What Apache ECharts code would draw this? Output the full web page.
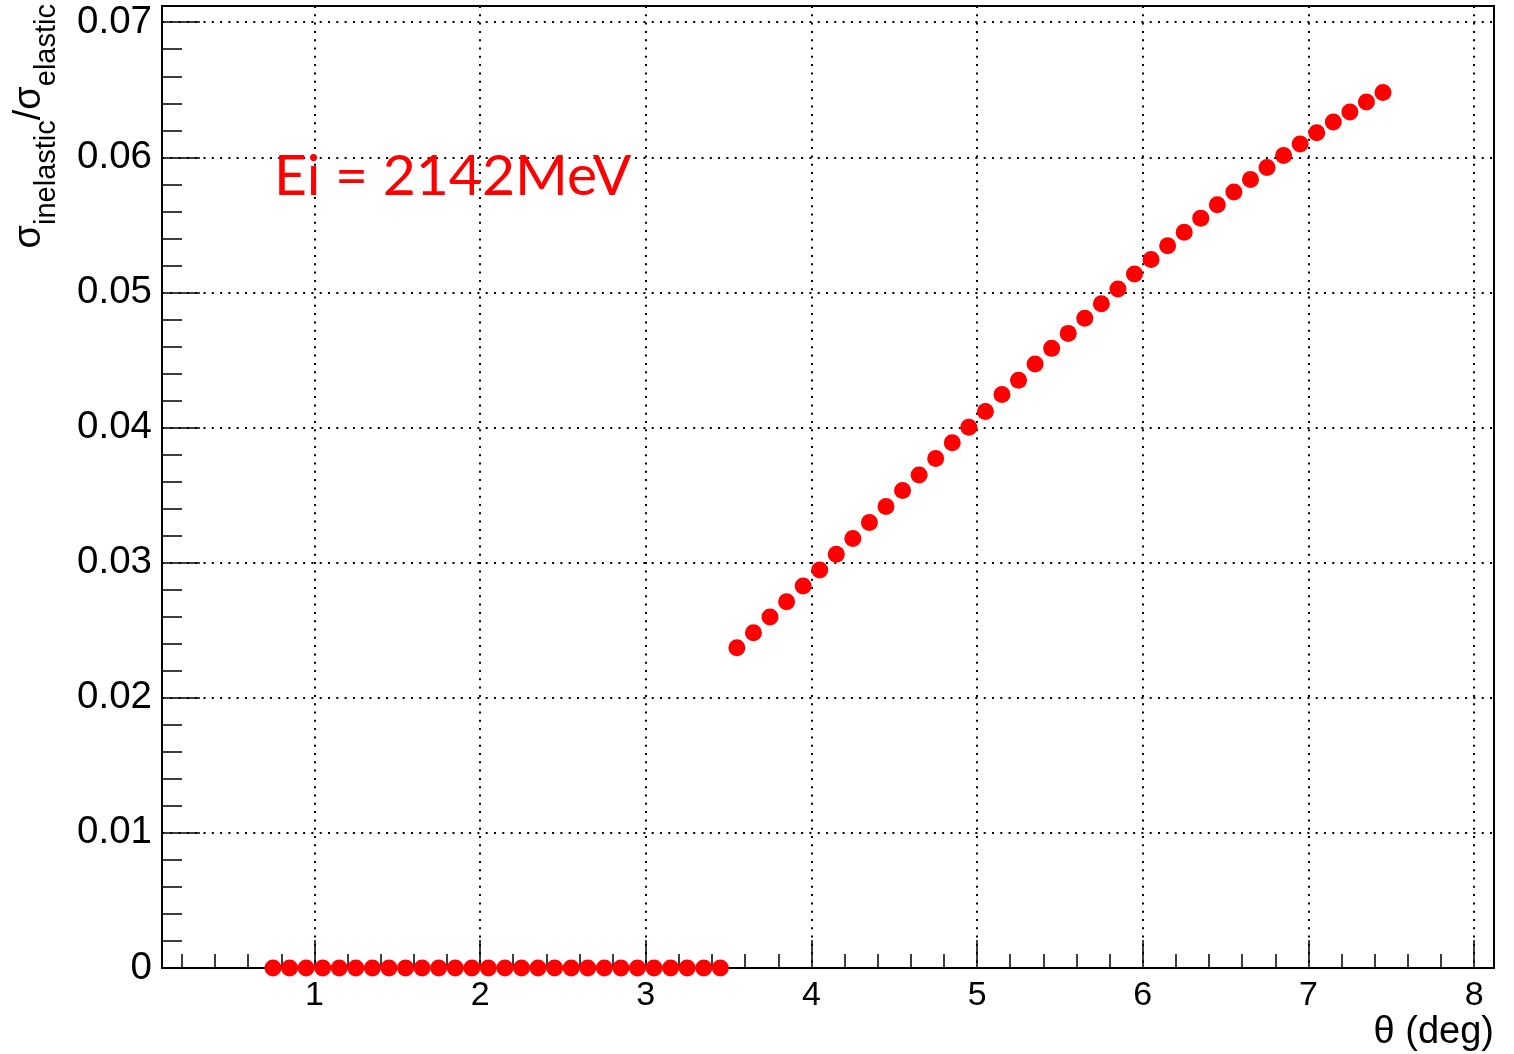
<!DOCTYPE html>
<html>
<head>
<meta charset="utf-8">
<script src="https://cdn.jsdelivr.net/npm/echarts@6/dist/echarts.min.js"></script>
<style>
html,body{margin:0;padding:0;background:#fff;}
#chart{width:1514px;height:1054px;}
</style>
</head>
<body>
<div id="chart"></div>
<script>
// scattering angle (deg)
const theta = [0.75,0.85,0.95,1.05,1.15,1.25,1.35,1.45,1.55,1.65,1.75,1.85,1.95,2.05,2.15,2.25,2.35,2.45,2.55,2.65,2.75,2.85,2.95,3.05,3.15,3.25,3.35,3.45,
  3.55,3.65,3.75,3.85,3.95,4.05,4.15,4.25,4.35,4.45,4.55,4.65,4.75,4.85,4.95,5.05,5.15,5.25,5.35,5.45,5.55,5.65,5.75,5.85,5.95,
  6.05,6.15,6.25,6.35,6.45,6.55,6.65,6.75,6.85,6.95,7.05,7.15,7.25,7.35,7.45];
// sigma_inelastic / sigma_elastic
const ratio = [0,0,0,0,0,0,0,0,0,0,0,0,0,0,0,0,0,0,0,0,0,0,0,0,0,0,0,0,
  0.02370,0.02481,0.02597,0.02711,0.02827,0.02945,0.03062,0.03178,0.03297,0.03415,0.03534,0.03649,0.03771,0.03887,0.04003,
  0.04119,0.04245,0.04350,0.04470,0.04586,0.04697,0.04809,0.04917,0.05026,0.05137,0.05243,0.05345,0.05446,0.05550,0.05649,
  0.05743,0.05836,0.05925,0.06014,0.06099,0.06182,0.06262,0.06336,0.06410,0.06479];
const annotation = 'Ei = 2142MeV';
const xTitle = 'θ (deg)';

const points = theta.map((t, i) => [t, ratio[i]]);
const FONT = '"Liberation Sans", Arial, Helvetica, sans-serif';
const gridDots = {color: '#000', width: 2, type: [2, 6.3]};

const chart = echarts.init(document.getElementById('chart'), null, {renderer: 'canvas'});
chart.setOption({
  animation: false,
  backgroundColor: '#fff',
  grid: {left: 162, right: 20, top: 6, bottom: 86, show: true, borderColor: '#000', borderWidth: 2, backgroundColor: 'transparent'},
  xAxis: {
    type: 'value', min: 0.08, max: 8.12, splitNumber: 8,
    axisLine: {show: true, onZero: false, lineStyle: {color: '#000', width: 2}},
    axisTick: {show: true, inside: true, length: 28, lineStyle: {color: '#000', width: 1.5}},
    minorTick: {show: true, splitNumber: 5, length: 14, lineStyle: {color: '#000', width: 1.5}},
    splitLine: {show: true, lineStyle: gridDots},
    axisLabel: {show: true, showMinLabel: false, showMaxLabel: false, margin: 11, color: '#000', fontSize: 34, fontFamily: FONT},
    name: xTitle, nameLocation: 'end', nameGap: 0,
    nameTextStyle: {fontSize: 38, fontFamily: FONT, color: '#000', align: 'right', verticalAlign: 'top', padding: [46, 0, 0, 0]}
  },
  yAxis: {
    type: 'value', min: 0, max: 0.0712, interval: 0.01,
    axisLine: {show: true, onZero: false, lineStyle: {color: '#000', width: 2}},
    axisTick: {show: true, inside: true, length: 38, lineStyle: {color: '#000', width: 1.5}},
    minorTick: {show: true, splitNumber: 5, length: 20, lineStyle: {color: '#000', width: 1.5}},
    splitLine: {show: true, lineStyle: gridDots},
    axisLabel: {show: true, showMaxLabel: false, margin: 10, color: '#000', fontSize: 38.5, fontFamily: FONT}
  },
  graphic: [
    {
      type: 'text', x: 11, y: 4, rotation: Math.PI / 2, z: 100,
      style: {
        text: '{m|σ}{s|inelastic}{m|/σ}{s|elastic}',
        align: 'right', verticalAlign: 'top',
        fill: '#000', font: '38px ' + FONT,
        rich: {
          m: {fontSize: 38, fontFamily: FONT, lineHeight: 42, verticalAlign: 'top', fill: '#000'},
          s: {fontSize: 29, fontFamily: FONT, lineHeight: 31, padding: [21, 0, 0, 0], verticalAlign: 'top', fill: '#000'}
        }
      }
    },
    {
      type: 'text', x: 274, y: 177, z: 100,
      style: {text: annotation, fill: '#ff0000', font: '57px Lato, "Open Sans", sans-serif', align: 'left', verticalAlign: 'middle'}
    }
  ],
  series: [{
    type: 'scatter', data: points, symbol: 'circle', symbolSize: 17,
    itemStyle: {color: '#ff0000', opacity: 1}, emphasis: {disabled: true}, z: 5, clip: false
  }]
});
</script>
</body>
</html>
